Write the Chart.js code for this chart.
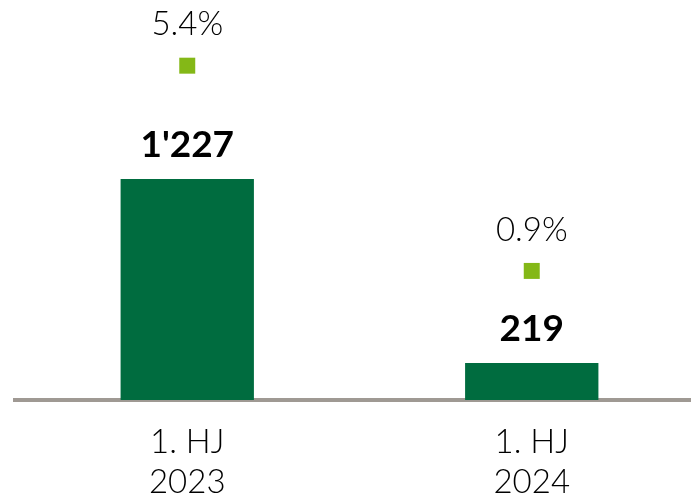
<!DOCTYPE html>
<html>
<head>
<meta charset="utf-8">
<script src="https://cdn.jsdelivr.net/npm/chart.js@4"></script>
<style>
  html, body { margin: 0; padding: 0; background: #fff; overflow: hidden; }
</style>
</head>
<body>
<canvas id="chart" width="704" height="498"></canvas>
<script>
// data
const categories = [['1. HJ', '2023'], ['1. HJ', '2024']];
const amounts = [1227, 219];
const shares = [5.4, 0.9];

const barGreen = '#006c3f';
const dotGreen = '#84b817';

function fmtThousands(v) {
    return String(v).replace(/\B(?=(\d{3})+(?!\d))/g, "'");
}

// draws the numbers above bars and markers
const valueLabels = {
    id: 'valueLabels',
    afterDatasetsDraw(chart) {
        const ctx = chart.ctx;
        ctx.save();
        ctx.fillStyle = '#000';
        ctx.textAlign = 'center';
        ctx.textBaseline = 'middle';
        chart.getDatasetMeta(0).data.forEach((el, i) => {
            ctx.font = 'bold 37px Lato';
            ctx.fillText(fmtThousands(amounts[i]), el.x, el.y - 34);
        });
        chart.getDatasetMeta(1).data.forEach((el, i) => {
            ctx.font = '300 33px Lato';
            ctx.fillText(shares[i].toFixed(1) + '%', el.x, el.y - 41);
        });
        ctx.restore();
    }
};

const ctx = document.getElementById('chart').getContext('2d');
new Chart(ctx, {
    data: {
        labels: categories,
        datasets: [{
            type: 'bar',
            data: amounts,
            backgroundColor: barGreen,
            yAxisID: 'y',
            barPercentage: 0.387,
            categoryPercentage: 1,
            order: 2
        }, {
            type: 'line',
            data: shares,
            yAxisID: 'y2',
            showLine: false,
            clip: false,
            pointStyle: 'rect',
            pointRadius: 11.3,
            pointHoverRadius: 11.3,
            pointBorderWidth: 0,
            pointBackgroundColor: dotGreen,
            order: 1
        }]
    },
    options: {
        responsive: false,
        animation: false,
        layout: { autoPadding: false, padding: { left: 15, top: 0, right: 0, bottom: 0 } },
        plugins: { legend: { display: false }, tooltip: { enabled: false } },
        scales: {
            x: {
                grid: { display: false },
                border: { display: true, color: '#9f9993', width: 4 },
                ticks: {
                    color: '#000',
                    padding: 14,
                    font: { family: 'Lato', size: 33, weight: 300, lineHeight: '40px' }
                },
                afterFit(scale) { scale.height = 98; }
            },
            y: { display: false, min: 16, max: 2208 },
            y2: { display: false, min: -1.93, max: 6.84 }
        }
    },
    plugins: [valueLabels]
});
</script>
</body>
</html>
